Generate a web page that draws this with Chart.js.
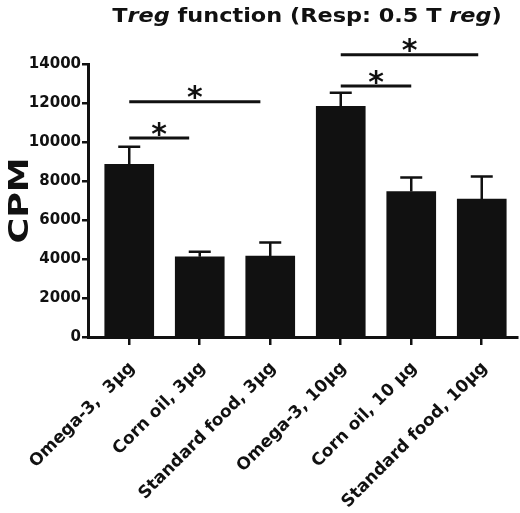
<!DOCTYPE html>
<html>
<head>
<meta charset="utf-8">
<script src="https://cdn.jsdelivr.net/npm/chart.js@4.4.0/dist/chart.umd.min.js"></script>
<style>
  html, body { margin: 0; padding: 0; background: #fff; }
  #wrap { position: relative; width: 520px; height: 513px; }
  #title {
    position: absolute; top: 3px; left: 307px; transform: translateX(-50%) scaleX(1.12);
    white-space: nowrap; font-family: 'DejaVu Sans', sans-serif; font-weight: bold;
    font-size: 20px; color: #111;
  }
  canvas { position: absolute; left: 0; top: 0; }
</style>
</head>
<body>
<div id="wrap">
  <canvas id="chart" width="520" height="513"></canvas>
  <div id="title">T<i>reg</i> function (Resp: 0.5 T <i>reg</i>)</div>
</div>
<script>
// 数据
const categories = ['Omega-3,  3µg', 'Corn oil, 3µg', 'Standard food, 3µg', 'Omega-3, 10µg', 'Corn oil, 10 µg', 'Standard food, 10µg'];
const cpm = [8860, 4110, 4150, 11830, 7460, 7070];
const sem = [900, 260, 700, 700, 720, 1160];
const yTicks = [0, 2000, 4000, 6000, 8000, 10000, 12000, 14000];
const yTitle = 'CPM';

// 显著性标记 (起止类别位置, 高度)
const sigStart = [0, 0, 3, 3];
const sigEnd = [0.85, 1.86, 4, 4.95];
const sigLevel = [10200, 12070, 12870, 14480];
const sigText = ['*', '*', '*', '*'];

const FONT = "'DejaVu Sans', sans-serif";
const INK = '#111';

// 误差线
const errorBars = {
    id: 'errorBars',
    afterDatasetsDraw(chart) {
        const { ctx, scales: { x, y } } = chart;
        ctx.save();
        ctx.strokeStyle = INK;
        ctx.lineWidth = 2.5;
        cpm.forEach((v, i) => {
            const px = x.getPixelForValue(i);
            const yb = y.getPixelForValue(v);
            const yt = y.getPixelForValue(v + sem[i]);
            ctx.beginPath();
            ctx.moveTo(px, yb);
            ctx.lineTo(px, yt);
            ctx.moveTo(px - 11, yt);
            ctx.lineTo(px + 11, yt);
            ctx.stroke();
        });
        ctx.restore();
    }
};

// 显著性线和星号
const sigBars = {
    id: 'sigBars',
    afterDraw(chart) {
        const { ctx, scales: { x, y } } = chart;
        ctx.save();
        ctx.strokeStyle = INK;
        ctx.fillStyle = INK;
        ctx.lineWidth = 3;
        ctx.font = 'bold 30px ' + FONT;
        ctx.textAlign = 'center';
        ctx.textBaseline = 'alphabetic';
        sigLevel.forEach((lv, i) => {
            const x0 = x.getPixelForValue(sigStart[i]);
            const x1 = x.getPixelForValue(sigEnd[i]);
            const py = y.getPixelForValue(lv);
            ctx.beginPath();
            ctx.moveTo(x0, py);
            ctx.lineTo(x1, py);
            ctx.stroke();
            const m = ctx.measureText(sigText[i]);
            const h = m.actualBoundingBoxAscent + m.actualBoundingBoxDescent;
            const cy = py - 9;
            ctx.fillText(sigText[i], (x0 + x1) / 2, cy + h / 2 - m.actualBoundingBoxDescent);
        });
        ctx.restore();
    }
};

// Y 轴标题 (加宽字体)
const yAxisTitle = {
    id: 'yAxisTitle',
    afterDraw(chart) {
        const { ctx, chartArea } = chart;
        ctx.save();
        ctx.fillStyle = INK;
        ctx.font = 'bold 26px ' + FONT;
        ctx.textAlign = 'center';
        ctx.textBaseline = 'alphabetic';
        const m = ctx.measureText(yTitle);
        const cap = m.actualBoundingBoxAscent;
        ctx.translate(17.5, (chartArea.top + chartArea.bottom) / 2);
        ctx.rotate(-Math.PI / 2);
        ctx.scale(86 / m.width, 1);
        ctx.fillText(yTitle, 0, cap / 2);
        ctx.restore();
    }
};

new Chart(document.getElementById('chart'), {
    type: 'bar',
    data: {
        datasets: [{
            data: cpm.map((v, i) => ({ x: i, y: v })),
            backgroundColor: INK,
            borderWidth: 0,
            barThickness: 49
        }]
    },
    options: {
        responsive: false,
        animation: false,
        layout: { padding: { top: 64, right: 3, left: 0, bottom: 0 } },
        plugins: {
            legend: { display: false },
            tooltip: { enabled: false }
        },
        scales: {
            x: {
                type: 'linear',
                offset: false,
                min: -0.585,
                max: 5.5,
                afterBuildTicks: s => { s.ticks = categories.map((c, i) => ({ value: i })); },
                afterFit: s => { s.height = 176; },
                grid: { offset: false, drawOnChartArea: false, color: INK, lineWidth: 2.5, tickLength: 8 },
                border: { color: INK, width: 3 },
                ticks: {
                    autoSkip: false,
                    minRotation: 45,
                    maxRotation: 45,
                    labelOffset: 3,
                    padding: 13,
                    color: INK,
                    font: { family: FONT, size: 17, weight: 'bold' },
                    callback: v => categories[v]
                }
            },
            y: {
                min: 0,
                max: 14000,
                afterBuildTicks: s => { s.ticks = yTicks.map(v => ({ value: v })); },
                afterFit: s => { s.width = 88; },
                grid: { drawOnChartArea: false, color: INK, lineWidth: 2.5, tickLength: 6 },
                border: { color: INK, width: 3 },
                ticks: {
                    padding: 1,
                    color: INK,
                    font: { family: FONT, size: 15, weight: 'bold' },
                    callback: v => String(v)
                }
            }
        }
    },
    plugins: [errorBars, sigBars, yAxisTitle]
});
</script>
</body>
</html>
